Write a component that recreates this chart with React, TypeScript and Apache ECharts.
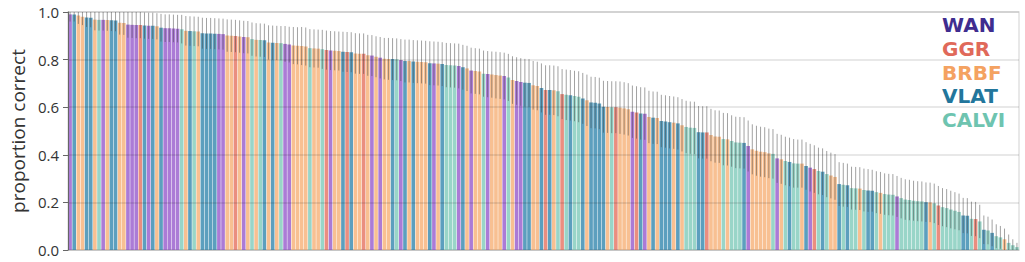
import React, { useEffect, useRef } from "react";
import * as echarts from "echarts";

// Dataset code per bar: W=WAN, G=GGR, B=BRBF, V=VLAT, C=CALVI
const groupNames: Record<string, string> = { W: "WAN", G: "GGR", B: "BRBF", V: "VLAT", C: "CALVI" };
const legendOrder = ["W", "G", "B", "V", "C"];
const barColors: Record<string, string> = {
  W: "#ab7bd6",
  G: "#ea8e80",
  B: "#f8c092",
  V: "#5c9fbe",
  C: "#99d5c8",
};
const legendColors: Record<string, string> = {
  W: "#3f2d8f",
  G: "#e0695a",
  B: "#f4a261",
  V: "#22769c",
  C: "#6ec4b0",
};

const groupCodes = [
  "W","V","B","B","V","V","B","C","W","B","V","V","B","B","W","W","W","G","V","W","V","B","V","W","W","W","W",
  "C","B","V","C","B","V","V","V","V","W","W","B","B","G","B","W","B","C","B","C","V","B","V","B","C","W","W",
  "B","B","B","B","C","B","B","C","G","W","B","B","V","G","V","B","B","G","B","W","B","W","B","B","V","C","W","V","B",
  "V","B","B","B","V","W","B","V","C","C","C","W","V","B","W","B","B","C","W","B","B","B","W","C","B","W","W","V",
  "V","B","B","V","G","V","B","C","G","C","V","C","C","V","B","V","V","V","V","B","C","G","B","B","B","W","G",
  "V","W","B","V","B","V","V","V","B","V","B","C","C","C","V","V","G","B","B","B","C","B","C","C","C","V","W","B",
  "B","B","B","B","C","W","B","C","V","C","C","B","V","W","G","C","V","C","B","B","V","C","V","C","C","B","C","V",
  "V","C","B","C","C","C","W","C","C","C","C","C","C","V","B","C","G","C","C","C","C","C","V","V","C","G","C","V","C","V","C","C","B","C","C","C",
];

const proportionCorrect = [
  0.99,0.99,0.985,0.98,0.977,0.976,0.968,0.967,0.967,0.966,0.965,0.964,0.955,0.954,0.947,0.946,0.945,0.945,0.943,0.942,0.942,0.94,0.934,0.932,0.932,0.931,0.93,
  0.928,0.921,0.92,0.919,0.918,0.911,0.91,0.91,0.909,0.908,0.907,0.901,0.9,0.899,0.897,0.895,0.894,0.886,0.883,0.882,0.881,0.872,0.871,0.87,0.869,0.866,0.863,
  0.859,0.858,0.857,0.855,0.848,0.847,0.846,0.843,0.84,0.838,0.837,0.836,0.833,0.832,0.831,0.826,0.825,0.825,0.818,0.817,0.812,0.808,0.804,0.803,0.802,0.801,0.798,0.794,0.794,
  0.792,0.791,0.79,0.789,0.785,0.784,0.783,0.781,0.777,0.776,0.775,0.773,0.768,0.763,0.754,0.752,0.75,0.741,0.739,0.737,0.735,0.733,0.731,0.725,0.714,0.71,0.706,0.703,
  0.702,0.692,0.689,0.681,0.672,0.672,0.671,0.667,0.655,0.652,0.65,0.647,0.644,0.637,0.629,0.62,0.619,0.616,0.602,0.601,0.6,0.6,0.598,0.595,0.591,0.581,0.578,
  0.574,0.573,0.559,0.556,0.555,0.542,0.54,0.537,0.535,0.532,0.524,0.517,0.514,0.513,0.495,0.494,0.494,0.483,0.477,0.476,0.466,0.465,0.458,0.452,0.451,0.45,0.437,0.423,
  0.417,0.413,0.411,0.406,0.404,0.385,0.381,0.374,0.37,0.364,0.363,0.363,0.353,0.346,0.34,0.332,0.329,0.319,0.313,0.307,0.277,0.274,0.272,0.26,0.259,0.258,0.252,0.25,
  0.249,0.243,0.24,0.235,0.233,0.232,0.225,0.218,0.212,0.21,0.207,0.205,0.204,0.201,0.2,0.196,0.187,0.18,0.176,0.17,0.165,0.16,0.145,0.144,0.131,0.13,0.12,0.085,0.082,0.072,0.058,0.053,0.045,0.03,0.02,0.012,
];

// Half-width of the confidence interval drawn as a grey whisker
const ciHalfWidth = [
  0.03,0.03,0.035,0.035,0.04,0.04,0.045,0.045,0.045,0.045,0.045,0.045,0.05,0.05,0.055,0.055,0.055,0.055,0.055,0.055,0.055,0.055,0.058,0.058,0.058,0.058,0.058,
  0.06,0.062,0.062,0.062,0.062,0.065,0.065,0.065,0.065,0.065,0.065,0.068,0.068,0.068,0.068,0.068,0.068,0.07,0.07,0.07,0.07,0.072,0.072,0.072,0.072,0.075,0.075,
  0.078,0.078,0.08,0.08,0.08,0.08,0.08,0.082,0.082,0.082,0.082,0.082,0.084,0.084,0.084,0.085,0.085,0.085,0.086,0.086,0.086,0.087,0.087,0.088,0.088,0.088,0.088,0.09,0.09,
  0.09,0.09,0.09,0.09,0.092,0.092,0.092,0.092,0.093,0.093,0.093,0.094,0.094,0.095,0.096,0.096,0.096,0.097,0.097,0.097,0.098,0.098,0.098,0.099,0.1,0.1,0.1,0.1,
  0.1,0.102,0.102,0.103,0.104,0.104,0.104,0.105,0.105,0.106,0.106,0.106,0.107,0.107,0.108,0.108,0.108,0.108,0.109,0.109,0.109,0.109,0.11,0.11,0.11,0.11,0.11,
  0.11,0.11,0.11,0.11,0.11,0.11,0.11,0.11,0.11,0.11,0.11,0.11,0.11,0.11,0.11,0.11,0.11,0.11,0.11,0.11,0.11,0.11,0.108,0.108,0.108,0.108,0.107,0.105,
  0.105,0.105,0.105,0.104,0.104,0.103,0.103,0.102,0.102,0.102,0.101,0.101,0.1,0.1,0.1,0.098,0.098,0.097,0.096,0.096,0.092,0.092,0.091,0.09,0.09,0.09,0.09,0.09,
  0.088,0.088,0.088,0.087,0.087,0.087,0.086,0.085,0.085,0.085,0.084,0.084,0.084,0.083,0.083,0.083,0.082,0.08,0.08,0.079,0.078,0.077,0.074,0.074,0.072,0.072,0.07,0.06,0.058,0.056,0.05,0.048,0.045,0.035,0.025,0.018,
];

const yAxisTitle = "proportion correct";
const FONT = "'Open Sans', 'Noto Sans', sans-serif";
const LEGEND_FONT = "'DejaVu Sans', sans-serif";

export default function App() {
  const ref = useRef<HTMLDivElement>(null);

  useEffect(() => {
    if (!ref.current) return;
    const chart = echarts.init(ref.current, null, { renderer: "svg" });
    const categories = proportionCorrect.map((_, i) => `${groupNames[groupCodes[i]]} ${i + 1}`);

    const legendTexts = legendOrder.map((code, k) => ({
      type: "text",
      left: 942,
      top: 13.5 + k * 23.8,
      z: 10,
      style: {
        text: groupNames[code],
        fill: legendColors[code],
        font: `bold 20px ${LEGEND_FONT}`,
        lineHeight: 23,
      },
    }));

    chart.setOption({
      animation: false,
      backgroundColor: "#ffffff",
      grid: {
        left: 67,
        right: 6,
        top: 12,
        bottom: 12,
        show: true,
        borderColor: "#e1e1e1",
        borderWidth: 1.5,
        backgroundColor: "transparent",
      },
      xAxis: {
        type: "category",
        data: categories,
        boundaryGap: true,
        axisLine: { show: true, lineStyle: { color: "#d6d6d6", width: 1.5 } },
        axisTick: { show: false },
        axisLabel: { show: false },
        splitLine: { show: false },
      },
      yAxis: {
        type: "value",
        min: 0,
        max: 1,
        interval: 0.2,
        z: 4,
        name: yAxisTitle,
        nameLocation: "middle",
        nameGap: 40,
        nameTextStyle: { fontSize: 19, color: "#333", fontFamily: FONT },
        axisLine: { show: true, lineStyle: { color: "#666", width: 1 } },
        axisTick: { show: true, length: 5, lineStyle: { color: "#666" } },
        axisLabel: {
          fontSize: 15,
          color: "#333",
          fontFamily: FONT,
          margin: 9,
          formatter: (v: number) => v.toFixed(1),
        },
        splitLine: { show: true, lineStyle: { color: "rgba(0,0,0,0.12)", width: 1.5 } },
      },
      series: [
        {
          type: "bar",
          barCategoryGap: "12%",
          z: 2,
          data: proportionCorrect.map((v, i) => ({
            value: v,
            itemStyle: { color: barColors[groupCodes[i]] },
          })),
        },
        {
          type: "custom",
          z: 3,
          encode: { x: 0, y: [1, 2] },
          data: proportionCorrect.map((v, i) => [
            i,
            Math.max(0, v - ciHalfWidth[i]),
            Math.min(1, v + ciHalfWidth[i]),
          ]),
          renderItem: (params: any, api: any) => {
            const x = api.value(0);
            const lo = api.coord([x, api.value(1)]);
            const hi = api.coord([x, api.value(2)]);
            return {
              type: "line",
              shape: { x1: lo[0], y1: lo[1], x2: hi[0], y2: hi[1] },
              style: { stroke: "rgba(70,70,70,0.5)", lineWidth: 1 },
            };
          },
        },
      ],
      graphic: legendTexts,
    });

    return () => chart.dispose();
  }, []);

  return (
    <div
      ref={ref}
      style={{ position: "absolute", left: 0, top: 0, width: 1025, height: 262 }}
    />
  );
}
